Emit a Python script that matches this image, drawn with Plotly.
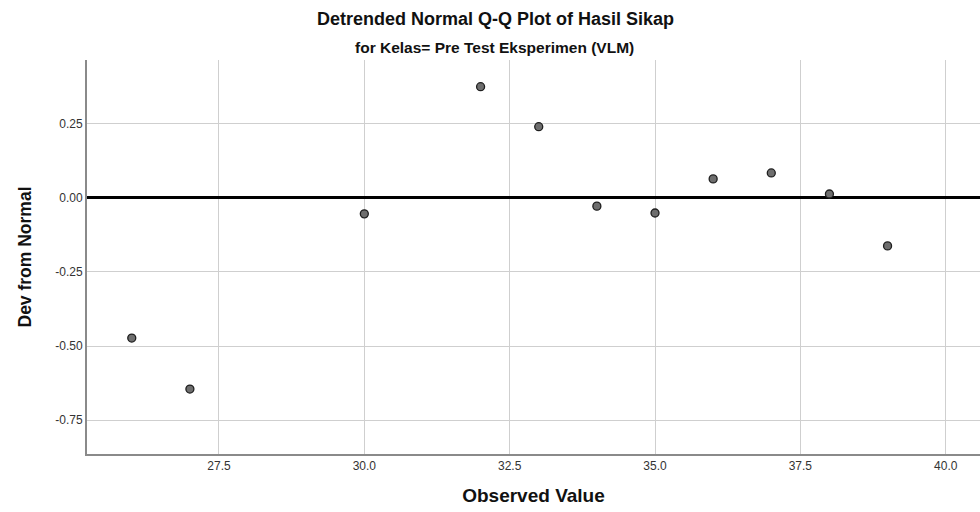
import plotly.graph_objects as go

observed = [26, 27, 30, 32, 33, 34, 35, 36, 37, 38, 39]
dev_from_normal = [-0.473, -0.645, -0.054, 0.375, 0.240, -0.028, -0.051, 0.064, 0.084, 0.013, -0.162]

x_ticks = [27.5, 30.0, 32.5, 35.0, 37.5, 40.0]
y_ticks = [-0.75, -0.50, -0.25, 0.00, 0.25]

title_text = "Detrended Normal Q-Q Plot of Hasil Sikap"
subtitle_text = "for Kelas= Pre Test Eksperimen (VLM)"
x_title = "Observed Value"
y_title = "Dev from Normal"

FONT = "Liberation Sans, Arial, sans-serif"

fig = go.Figure()
fig.add_trace(go.Scatter(
    x=observed, y=dev_from_normal, mode="markers",
    marker=dict(size=8, color="#6e6e6e", line=dict(color="#1e1e1e", width=1.3)),
    showlegend=False, cliponaxis=False,
))

fig.update_layout(
    width=980, height=512,
    margin=dict(l=87, r=0, t=60, b=58),
    paper_bgcolor="white", plot_bgcolor="white",
    font=dict(family=FONT, color="#222"),
    xaxis=dict(
        range=[25.23, 40.59], tickvals=x_ticks,
        ticktext=[f"{v:.1f}" for v in x_ticks],
        showgrid=True, gridcolor="#cfcfcf", gridwidth=1.2,
        showline=True, linecolor="#8a8a8a", linewidth=2,
        zeroline=False, ticks="", tickfont=dict(size=12, color="#333"),
        automargin=False,
        title=dict(text=f"<b>{x_title}</b>", font=dict(size=19, color="#111"), standoff=16),
    ),
    yaxis=dict(
        range=[-0.864, 0.465], tickvals=y_ticks,
        ticktext=[f"{v:.2f}" for v in y_ticks],
        showgrid=True, gridcolor="#cfcfcf", gridwidth=1.2,
        showline=True, linecolor="#8a8a8a", linewidth=2,
        zeroline=True, zerolinecolor="#000000", zerolinewidth=3,
        ticks="", tickfont=dict(size=12, color="#333"),
        automargin=False,
        title=dict(text=f"<b>{y_title}</b>", font=dict(size=17.5, color="#111"), standoff=19),
    ),
    annotations=[
        dict(text=f"<b>{title_text}</b>", x=(495 - 87) / (980 - 87), y=1,
             xref="paper", yref="paper", yanchor="middle", yshift=60 - 19,
             showarrow=False, font=dict(size=18, color="#111")),
        dict(text=f"<b>{subtitle_text}</b>", x=(494 - 87) / (980 - 87), y=1,
             xref="paper", yref="paper", yanchor="middle", yshift=60 - 47,
             showarrow=False, font=dict(size=15.5, color="#111")),
    ],
)

fig.write_html(
    "out.html",
    config={"displayModeBar": False},
    post_script="document.body.style.margin='0';document.body.style.overflow='hidden';",
)
